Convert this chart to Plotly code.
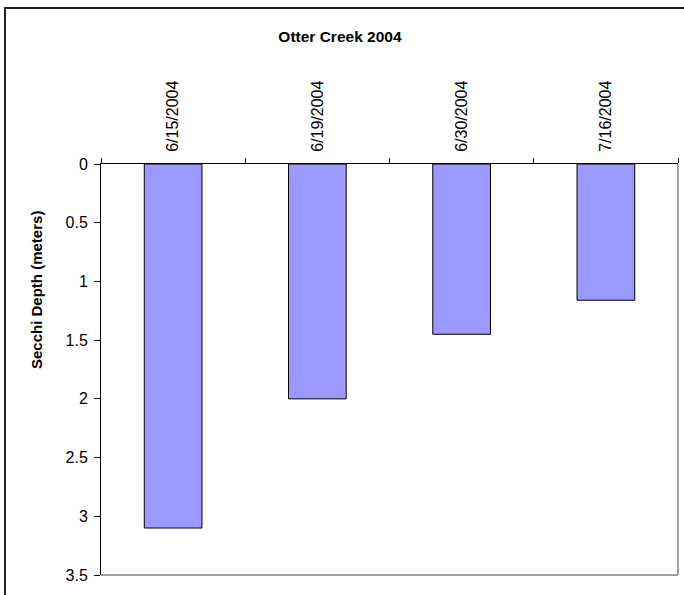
import plotly.graph_objects as go

# Secchi disk readings, Otter Creek 2004
dates = ["6/15/2004", "6/19/2004", "6/30/2004", "7/16/2004"]
depth_m = [3.1, 2.0, 1.45, 1.16]
y_ticks = [0, 0.5, 1, 1.5, 2, 2.5, 3, 3.5]
y_tick_text = ["0", "0.5", "1", "1.5", "2", "2.5", "3", "3.5"]

W, H = 684, 595
L, R, T, B = 101, 6, 164, 20
pw, ph = W - L - R, H - T - B


def px(x):
    return (x - L) / pw


def py(y):
    return (H - B - y) / ph


FONT = "Arial, Liberation Sans, sans-serif"

fig = go.Figure(
    go.Bar(
        x=dates,
        y=depth_m,
        marker=dict(color="#9999FF", line=dict(color="#000000", width=1)),
        showlegend=False,
    )
)

fig.update_layout(
    width=W,
    height=H,
    margin=dict(l=L, r=R, t=T, b=B),
    paper_bgcolor="white",
    plot_bgcolor="white",
    bargap=0.6,
    title=dict(
        text="<b>Otter Creek 2004</b>",
        font=dict(family=FONT, size=15.5, color="black"),
        xref="container", x=0.497, xanchor="center",
        yref="container", y=1 - 37 / H, yanchor="middle",
    ),
    xaxis=dict(
        type="category",
        side="top",
        tickangle=-90,
        tickson="boundaries",
        ticks="outside",
        ticklen=5,
        tickcolor="black",
        ticklabelstandoff=8,
        showline=True,
        linecolor="black",
        linewidth=1,
        showgrid=False,
        zeroline=False,
        tickfont=dict(family=FONT, size=16, color="black"),
    ),
    yaxis=dict(
        range=[3.5, 0],
        tickvals=y_ticks,
        ticktext=y_tick_text,
        ticks="outside",
        ticklen=6,
        tickcolor="black",
        ticklabelstandoff=3,
        showline=True,
        linecolor="black",
        linewidth=1,
        showgrid=False,
        zeroline=False,
        tickfont=dict(family=FONT, size=16, color="black"),
    ),
    shapes=[
        # plot area frame (right and bottom edges)
        dict(type="line", xref="paper", yref="paper", x0=1, x1=1, y0=0, y1=1,
             line=dict(color="#808080", width=1.5)),
        dict(type="line", xref="paper", yref="paper", x0=0, x1=1, y0=0, y1=0,
             line=dict(color="#808080", width=1.5)),
        # chart area border
        dict(type="rect", xref="paper", yref="paper",
             x0=px(5), x1=px(700), y0=py(8), y1=py(620),
             line=dict(color="#222222", width=2)),
    ],
    annotations=[
        dict(
            text="<b>Secchi Depth (meters)</b>",
            textangle=-90,
            xref="paper", yref="paper",
            x=px(36), y=py(290),
            xanchor="center", yanchor="middle",
            showarrow=False,
            font=dict(family=FONT, size=15, color="black"),
        )
    ],
)

fig.write_html("out.html")
